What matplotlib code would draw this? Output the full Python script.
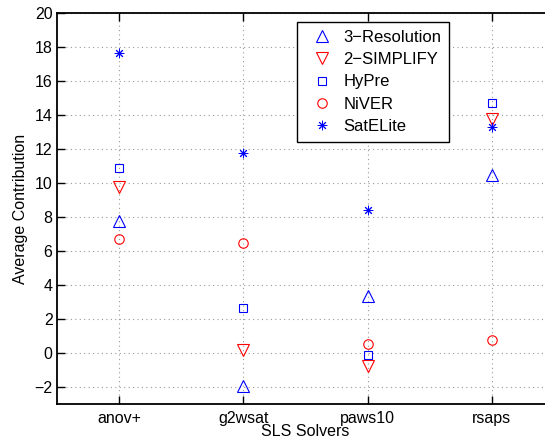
import matplotlib
matplotlib.use("Agg")
import matplotlib.pyplot as plt
import numpy as np

plt.rcParams['font.family'] = ['Liberation Sans', 'DejaVu Sans']

solvers = ["anov+", "g2wsat", "paws10", "rsaps"]
res3 = [7.75, -1.95, 3.37, 10.48]
simplify2 = [9.75, 0.2, -0.78, 13.78]
hypre = [10.9, 2.65, -0.12, 14.7]
niver = [6.7, 6.47, 0.53, 0.8]
satelite = [17.65, 11.76, 8.43, 13.27]
yticks = list(range(-2, 21, 2))

fig = plt.figure(figsize=(5.45, 4.42), dpi=100)
ax = fig.add_axes([0.104, 0.0853, 0.9125, 0.886])
x = np.arange(1, len(solvers) + 1)

mew = 0.8
ax.plot(x, res3, linestyle='none', marker='^', ms=8.6, mfc='none', mec='blue', mew=mew, label='3\u2212Resolution')
ax.plot(x, simplify2, linestyle='none', marker='v', ms=8.6, mfc='none', mec='red', mew=mew, label='2\u2212SIMPLIFY')
ax.plot(x, hypre, linestyle='none', marker='s', ms=5.8, mfc='none', mec='blue', mew=mew, label='HyPre')
ax.plot(x, niver, linestyle='none', marker='o', ms=6.8, mfc='none', mec='red', mew=mew, label='NiVER')
ax.plot(x, satelite, linestyle='none', marker=(8, 2, 0), ms=6.8, mfc='none', mec='blue', mew=0.7, label='SatELite')

ax.set_xlim(0.5, 4.5)
ax.set_ylim(-3, 20)
ax.set_xticks(x)
ax.set_xticklabels(solvers)
ax.set_yticks(yticks)
ax.set_yticklabels([str(v).replace('-', '\u2212') for v in yticks])
ax.tick_params(direction='in', length=6, width=1, labelsize=11.5, top=True, right=True)
ax.tick_params(axis='x', pad=4.5)
ax.tick_params(axis='y', pad=3)
ax.grid(True, color='#999999', linestyle=(0, (1, 3)), linewidth=0.8)
ax.set_axisbelow(True)
for s in ax.spines.values():
    s.set_linewidth(1.3)

ax.set_xlabel('SLS Solvers', fontsize=11.5, labelpad=-1)
ax.set_ylabel('Average Contribution', fontsize=11.5, labelpad=4.5)

leg = ax.legend(loc='upper left', bbox_to_anchor=(297.3 / 545, 1 - 22.3 / 442),
                bbox_transform=fig.transFigure, fontsize=12, frameon=True, fancybox=False,
                edgecolor='black', framealpha=1, borderpad=0.45, handlelength=2.1,
                handletextpad=0.2, labelspacing=0.44, borderaxespad=0, numpoints=1)
leg.get_frame().set_linewidth(1.0)

fig.savefig('out.png', dpi=100)
